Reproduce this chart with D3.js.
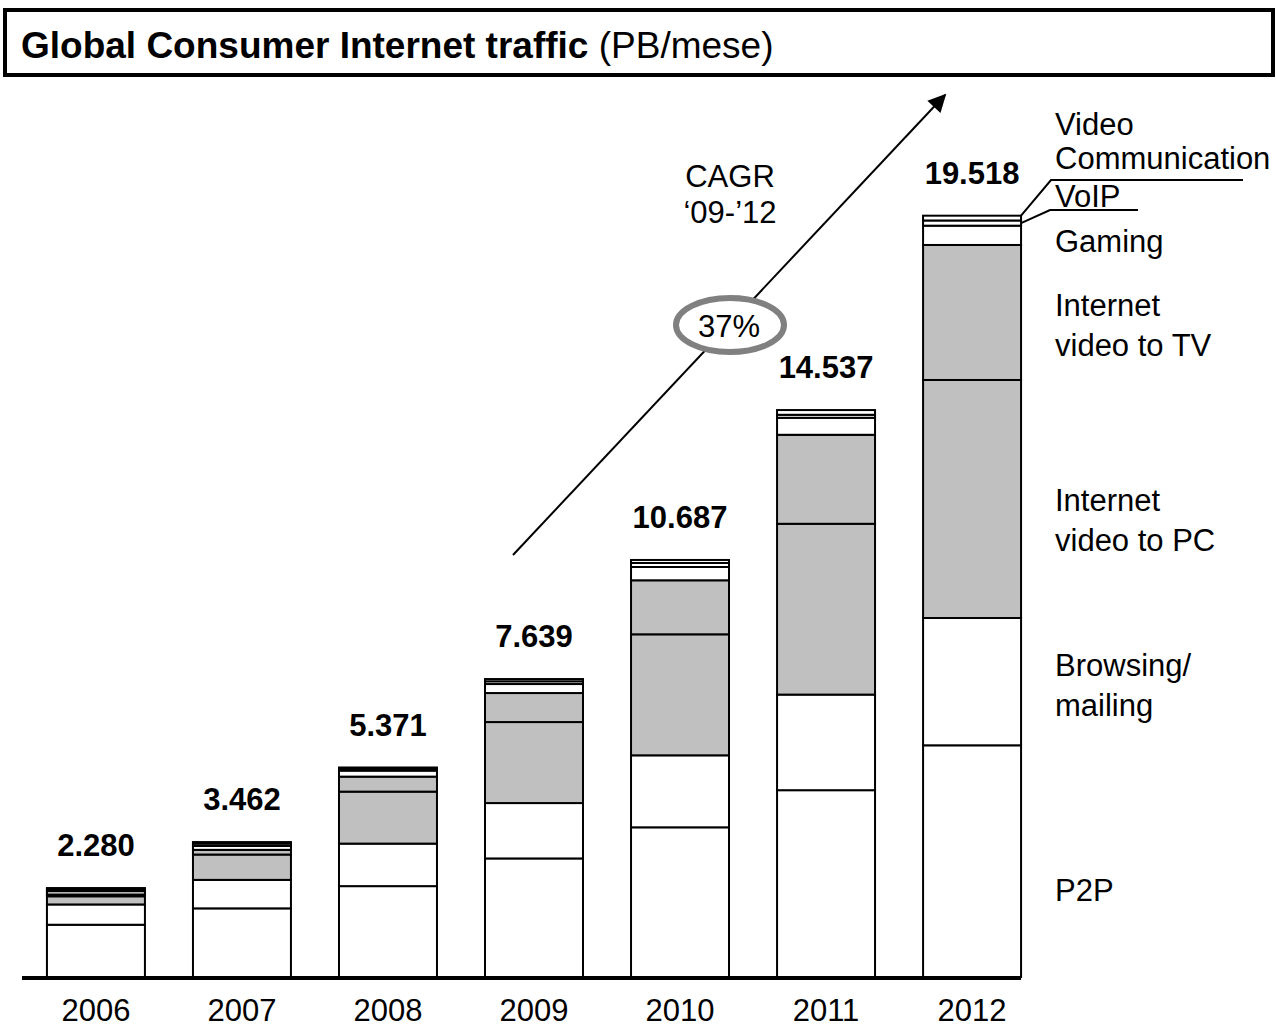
<!DOCTYPE html>
<html>
<head>
<meta charset="utf-8">
<script src="https://cdn.jsdelivr.net/npm/d3@7"></script>
<style>
  body { margin: 0; background: #fff; }
  svg { display: block; font-family: "Liberation Sans", Arial, sans-serif; }
</style>
</head>
<body>
<div id="chart"></div>
<script>
// data (PB/mese)
var years = ["2006", "2007", "2008", "2009", "2010", "2011", "2012"];
var totals = [2280, 3462, 5371, 7639, 10687, 14537, 19518];
var totalLabels = ["2.280", "3.462", "5.371", "7.639", "10.687", "14.537", "19.518"];

var p2p       = [1340, 1760, 2330, 3040, 3838, 4790, 5941];
var browsing  = [ 520,  730, 1090, 1420, 1846, 2451, 3264];
var videoPC   = [ 210,  650, 1333, 2077, 3103, 4380, 6103];
var videoTV   = [  46,  120,  385,  744, 1385, 2282, 3462];
var gaming    = [  85,  100,  154,  231,  341,  436,  495];
var voip      = [  50,   60,   40,   70,  103,   77,  133];
var videoComm = [  30,   40,   40,   58,   77,  121,  123];

var categories = ["P2P", "Browsing", "VideoPC", "VideoTV", "Gaming", "VoIP", "VideoComm"];
var series = [p2p, browsing, videoPC, videoTV, gaming, voip, videoComm];
var fills = ["#ffffff", "#ffffff", "#c0c0c0", "#c0c0c0", "#ffffff", "#ffffff", "#ffffff"];

var W = 1277, H = 1028;

var rows = years.map(function (y, i) {
  var r = { year: y };
  categories.forEach(function (c, j) { r[c] = series[j][i]; });
  return r;
});

var svg = d3.select("#chart").append("svg")
    .attr("width", W)
    .attr("height", H);

var x = d3.scaleBand()
    .domain(years)
    .range([23, 1045])
    .paddingInner(0.329)
    .paddingOuter(0.164);

var y = d3.scaleLinear()
    .domain([0, 20000])
    .range([977, 197]);

// title box
svg.append("rect")
    .attr("x", 5).attr("y", 10)
    .attr("width", 1268).attr("height", 65)
    .attr("fill", "none")
    .attr("stroke", "#000")
    .attr("stroke-width", 4);

var title = svg.append("text")
    .attr("x", 21).attr("y", 58)
    .style("font-size", "37px");
title.append("tspan").attr("font-weight", "bold").text("Global Consumer Internet traffic");
title.append("tspan").text(" (PB/mese)");

// stacked bars
var stacked = d3.stack().keys(categories)(rows);

var layers = svg.selectAll(".layer")
    .data(stacked)
  .enter().append("g")
    .attr("class", "layer")
    .attr("fill", function (d, i) { return fills[i]; });

layers.selectAll("rect")
    .data(function (d) { return d; })
  .enter().append("rect")
    .attr("x", function (d) { return x(d.data.year); })
    .attr("y", function (d) { return y(d[1]); })
    .attr("width", x.bandwidth())
    .attr("height", function (d) { return y(d[0]) - y(d[1]); })
    .attr("stroke", "#000")
    .attr("stroke-width", 2);

// totals over bars
svg.selectAll(".total")
    .data(totals)
  .enter().append("text")
    .attr("class", "total")
    .attr("x", function (d, i) { return x(years[i]) + x.bandwidth() / 2; })
    .attr("y", function (d) { return y(d) - 32; })
    .attr("text-anchor", "middle")
    .attr("font-weight", "bold")
    .style("font-size", "31px")
    .text(function (d, i) { return totalLabels[i]; });

// base line
svg.append("line")
    .attr("x1", 22).attr("x2", x(years[6]) + x.bandwidth())
    .attr("y1", y(0) + 1).attr("y2", y(0) + 1)
    .attr("stroke", "#000")
    .attr("stroke-width", 4);

// year labels
svg.selectAll(".year")
    .data(years)
  .enter().append("text")
    .attr("class", "year")
    .attr("x", function (d) { return x(d) + x.bandwidth() / 2; })
    .attr("y", 1021)
    .attr("text-anchor", "middle")
    .style("font-size", "31px")
    .text(function (d) { return d; });

// right side labels for the 2012 bar
var sideLabels = [
  { lines: ["Video", "Communication"], y: 135 },
  { lines: ["VoIP"], y: 207 },
  { lines: ["Gaming"], y: 252 },
  { lines: ["Internet", "video to TV"], y: 316 },
  { lines: ["Internet", "video to PC"], y: 511 },
  { lines: ["Browsing/", "mailing"], y: 676 },
  { lines: ["P2P"], y: 901 }
];
var lineGap = [34, 0, 0, 40, 40, 40, 0];

sideLabels.forEach(function (s, i) {
  var t = svg.append("text")
      .attr("x", 1055).attr("y", s.y)
      .style("font-size", "31px");
  s.lines.forEach(function (l, k) {
    t.append("tspan")
      .attr("x", 1055)
      .attr("dy", k === 0 ? 0 : lineGap[i])
      .text(l);
  });
});

// leader lines for the thin top segments
var last = stacked.map(function (s) { return s[6]; });
var barRight = x(years[6]) + x.bandwidth();
var vcAnchor = y(last[6][1]);
var voipAnchor = y((last[5][0] + last[5][1]) / 2);

svg.append("polyline")
    .attr("points", [[barRight, vcAnchor], [1051, 180], [1243, 180]].join(" "))
    .attr("fill", "none").attr("stroke", "#000").attr("stroke-width", 2);
svg.append("polyline")
    .attr("points", [[barRight, voipAnchor], [1050, 210], [1138, 210]].join(" "))
    .attr("fill", "none").attr("stroke", "#000").attr("stroke-width", 2);

// CAGR arrow
svg.append("defs").append("marker")
    .attr("id", "arrow")
    .attr("viewBox", "0 0 10 10")
    .attr("refX", 9).attr("refY", 5)
    .attr("markerWidth", 22).attr("markerHeight", 18)
    .attr("markerUnits", "userSpaceOnUse")
    .attr("orient", "auto")
  .append("path")
    .attr("d", "M0,0 L10,5 L0,10 z")
    .attr("fill", "#000");

svg.append("line")
    .attr("x1", 513).attr("y1", 555)
    .attr("x2", 945).attr("y2", 95)
    .attr("stroke", "#000")
    .attr("stroke-width", 2)
    .attr("marker-end", "url(#arrow)");

svg.append("text")
    .attr("x", 730).attr("y", 187)
    .attr("text-anchor", "middle")
    .style("font-size", "31px")
    .text("CAGR");
svg.append("text")
    .attr("x", 730).attr("y", 223)
    .attr("text-anchor", "middle")
    .style("font-size", "31px")
    .text("\u201809-\u201912");

svg.append("ellipse")
    .attr("cx", 730).attr("cy", 325)
    .attr("rx", 54).attr("ry", 27)
    .attr("fill", "#fff")
    .attr("stroke", "#808080")
    .attr("stroke-width", 6);

svg.append("text")
    .attr("x", 729).attr("y", 337)
    .attr("text-anchor", "middle")
    .style("font-size", "31px")
    .text("37%");
</script>
</body>
</html>
